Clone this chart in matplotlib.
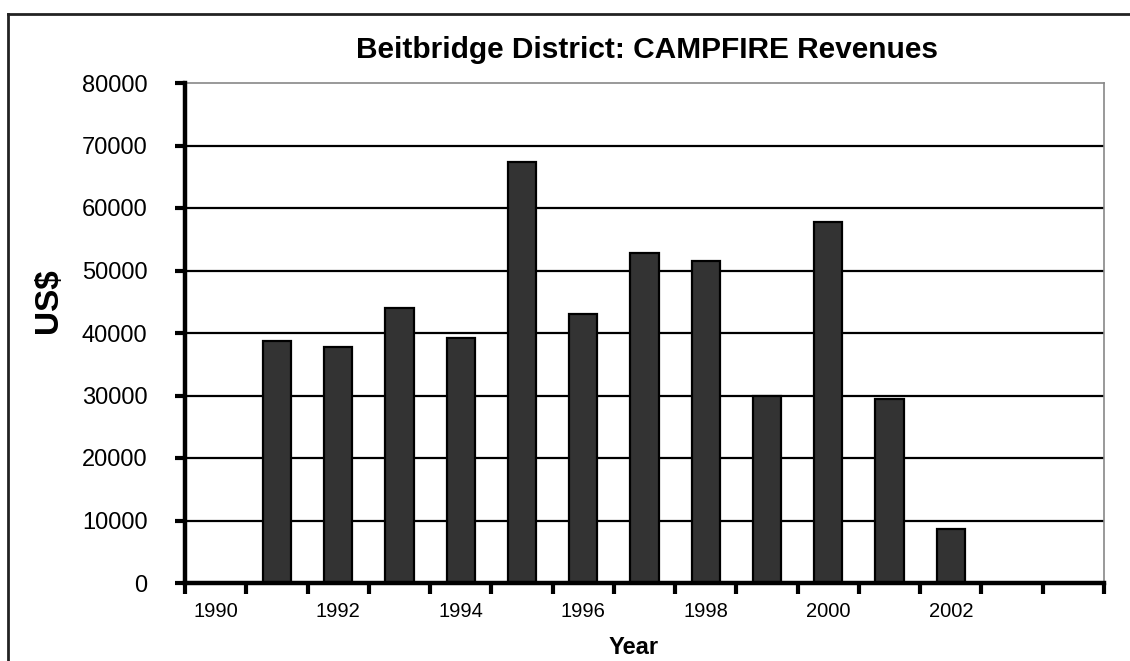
import numpy as np
import matplotlib
matplotlib.use('Agg')
import matplotlib.pyplot as plt
from matplotlib.lines import Line2D

plt.rcParams['font.family'] = ['Liberation Sans', 'DejaVu Sans']

# data
years = list(range(1990, 2005))
revenues = [0, 38700, 37800, 44000, 39200, 67400, 43000, 52800, 51600, 30000, 57800, 29400, 8600, 0, 0]
label_years = [1990, 1992, 1994, 1996, 1998, 2000, 2002]
yticks = [0, 10000, 20000, 30000, 40000, 50000, 60000, 70000, 80000]

fig = plt.figure(figsize=(11.3, 6.61), dpi=100)
ax = fig.add_axes([185/1130, 1 - 583/661, (1104-185)/1130, (583-83)/661])

x = np.arange(len(years))
vals = np.array(revenues)
has = vals > 0
ax.bar(x[has], vals[has], width=0.46, color='#333333', edgecolor='black', linewidth=1.6, zorder=3)

# horizontal gridlines (top one is the plot border)
for yv in yticks[1:-1]:
    ax.axhline(yv, color='black', linewidth=1.6, zorder=1)

ax.set_xlim(-0.5, len(years) - 0.5)
ax.set_ylim(0, 80000)

ax.set_yticks(yticks)
ax.set_yticklabels([str(v) for v in yticks], fontsize=17)
ax.tick_params(axis='y', direction='out', length=7, width=3, pad=20)

# boundary tick marks on x, labels at category centres
ax.set_xticks(np.arange(-0.5, len(years)), minor=True)
ax.set_xticks([years.index(y) for y in label_years])
ax.set_xticklabels([str(y) for y in label_years], fontsize=14.5)
ax.tick_params(axis='x', which='major', length=0, pad=14)
ax.tick_params(axis='x', which='minor', direction='out', length=8, width=3)

for side in ['left', 'bottom']:
    ax.spines[side].set_linewidth(3.2)
    ax.spines[side].set_color('black')
for side in ['top', 'right']:
    ax.spines[side].set_linewidth(1.2)
    ax.spines[side].set_color('#888888')
ax.spines['left'].set_zorder(4)
ax.spines['bottom'].set_zorder(4)

fig.text(647/1130, 1 - 50/661, 'Beitbridge District: CAMPFIRE Revenues',
         ha='center', va='center', fontsize=21.5, fontweight='bold')
fig.text(48/1130, 1 - 301/661, 'US$', ha='center', va='center', rotation=90,
         fontsize=24, fontweight='bold')
fig.text(634/1130, 1 - 647/661, 'Year', ha='center', va='center',
         fontsize=17, fontweight='bold')

# outer frame of the scanned figure (left and top edges visible)
fig.add_artist(Line2D([8/1130, 8/1130], [0, 1 - 14/661], transform=fig.transFigure,
                      color='#222222', linewidth=2))
fig.add_artist(Line2D([8/1130, 1], [1 - 14/661, 1 - 14/661], transform=fig.transFigure,
                      color='#222222', linewidth=2))

fig.savefig('out.png', dpi=100)
